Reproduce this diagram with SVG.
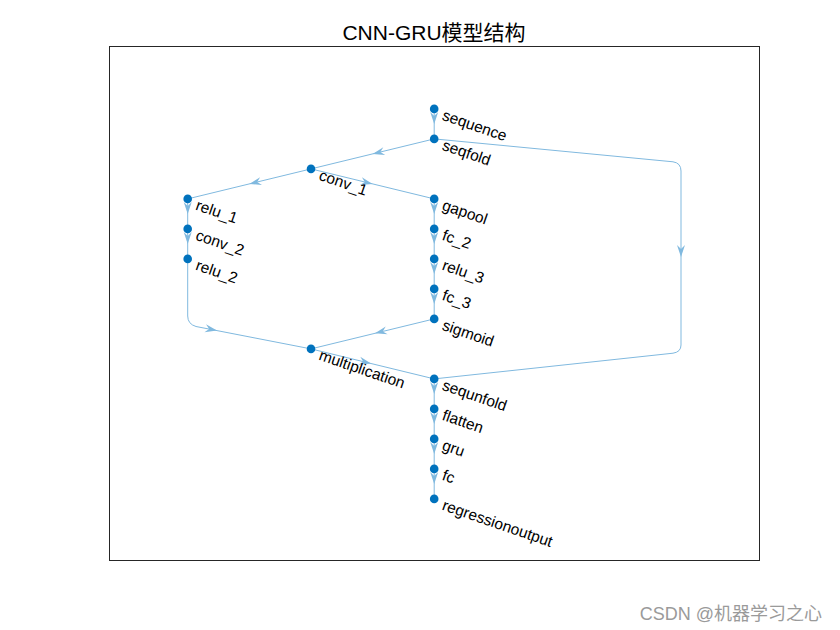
<svg xmlns="http://www.w3.org/2000/svg" xmlns:xlink="http://www.w3.org/1999/xlink" width="840" height="630" viewBox="0 0 840 630">
<style>
.edge{fill:none;stroke:#80B9DF;stroke-width:1}
.ah{fill:#80B9DF;stroke:none}
.node circle{fill:#0072BD}
.node text{font-family:"Liberation Sans",Arial,sans-serif;font-size:15.5px;fill:#000}
.title{font-family:"Liberation Sans","Noto Sans CJK SC",sans-serif;font-size:21px;fill:#000}
.wm{font-family:"Liberation Sans","Noto Sans CJK SC",sans-serif;font-size:18px;fill:#9a9a9a}
</style>
<defs>
<path id="ah" d="M0,0 L-12,-4 L-8,0 L-12,4 Z"/>
</defs>
<rect x="0" y="0" width="840" height="630" fill="#fff"/>
<rect x="109.5" y="46.5" width="650" height="514" fill="#fff" stroke="#262626" stroke-width="1"/>
<text class="title" x="434" y="40" text-anchor="middle">CNN-GRU模型结构</text>

<g id="connectors">
<line class="edge" x1="434.2" y1="108.9" x2="434.2" y2="138.9"/>
<line class="edge" x1="434.2" y1="138.9" x2="311" y2="168.9"/>
<line class="edge" x1="311" y1="168.9" x2="187.7" y2="198.9"/>
<line class="edge" x1="311" y1="168.9" x2="434.2" y2="198.9"/>
<line class="edge" x1="187.7" y1="198.9" x2="187.7" y2="258.9"/>
<line class="edge" x1="434.2" y1="198.9" x2="434.2" y2="318.9"/>
<path class="edge" d="M187.7,258.9 L187.7,316 Q187.7,324 196,326.5 L311,348.9"/>
<line class="edge" x1="434.2" y1="318.9" x2="311" y2="348.9"/>
<line class="edge" x1="311" y1="348.9" x2="434.2" y2="378.9"/>
<path class="edge" d="M434.2,138.9 L673,161.8 Q681,163 681,171 L681,345 Q681,352 673,353.2 L434.2,378.9"/>
<line class="edge" x1="434.2" y1="378.9" x2="434.2" y2="498.9"/>

<use xlink:href="#ah" href="#ah" class="ah" transform="translate(434.2,123.9) rotate(90)"/>
<use xlink:href="#ah" href="#ah" class="ah" transform="translate(372.6,153.9) rotate(166.3)"/>
<use xlink:href="#ah" href="#ah" class="ah" transform="translate(249.4,183.9) rotate(166.3)"/>
<use xlink:href="#ah" href="#ah" class="ah" transform="translate(372.6,183.9) rotate(13.7)"/>
<use xlink:href="#ah" href="#ah" class="ah" transform="translate(187.7,213.9) rotate(90)"/>
<use xlink:href="#ah" href="#ah" class="ah" transform="translate(187.7,243.9) rotate(90)"/>
<use xlink:href="#ah" href="#ah" class="ah" transform="translate(434.2,213.9) rotate(90)"/>
<use xlink:href="#ah" href="#ah" class="ah" transform="translate(434.2,243.9) rotate(90)"/>
<use xlink:href="#ah" href="#ah" class="ah" transform="translate(434.2,273.9) rotate(90)"/>
<use xlink:href="#ah" href="#ah" class="ah" transform="translate(434.2,303.9) rotate(90)"/>
<use xlink:href="#ah" href="#ah" class="ah" transform="translate(217,330.6) rotate(11.1)"/>
<use xlink:href="#ah" href="#ah" class="ah" transform="translate(375,333.3) rotate(166.3)"/>
<use xlink:href="#ah" href="#ah" class="ah" transform="translate(371,363.6) rotate(13.7)"/>
<use xlink:href="#ah" href="#ah" class="ah" transform="translate(681,257) rotate(90)"/>
<use xlink:href="#ah" href="#ah" class="ah" transform="translate(434.2,393.9) rotate(90)"/>
<use xlink:href="#ah" href="#ah" class="ah" transform="translate(434.2,423.9) rotate(90)"/>
<use xlink:href="#ah" href="#ah" class="ah" transform="translate(434.2,453.9) rotate(90)"/>
<use xlink:href="#ah" href="#ah" class="ah" transform="translate(434.2,483.9) rotate(90)"/>
</g>

<g id="node-sequence" class="node"><circle cx="434.2" cy="108.9" r="4.3"/><text x="441.2" y="119.5" transform="rotate(19 441.2 119.5)">sequence</text></g>
<g id="node-seqfold" class="node"><circle cx="434.2" cy="138.9" r="4.3"/><text x="441.2" y="149.5" transform="rotate(19 441.2 149.5)">seqfold</text></g>
<g id="node-conv_1" class="node"><circle cx="311" cy="168.9" r="4.3"/><text x="318" y="179.5" transform="rotate(19 318 179.5)">conv_1</text></g>
<g id="node-relu_1" class="node"><circle cx="187.7" cy="198.9" r="4.3"/><text x="194.7" y="209.5" transform="rotate(19 194.7 209.5)">relu_1</text></g>
<g id="node-conv_2" class="node"><circle cx="187.7" cy="228.9" r="4.3"/><text x="194.7" y="239.5" transform="rotate(19 194.7 239.5)">conv_2</text></g>
<g id="node-relu_2" class="node"><circle cx="187.7" cy="258.9" r="4.3"/><text x="194.7" y="269.5" transform="rotate(19 194.7 269.5)">relu_2</text></g>
<g id="node-gapool" class="node"><circle cx="434.2" cy="198.9" r="4.3"/><text x="441.2" y="209.5" transform="rotate(19 441.2 209.5)">gapool</text></g>
<g id="node-fc_2" class="node"><circle cx="434.2" cy="228.9" r="4.3"/><text x="441.2" y="239.5" transform="rotate(19 441.2 239.5)">fc_2</text></g>
<g id="node-relu_3" class="node"><circle cx="434.2" cy="258.9" r="4.3"/><text x="441.2" y="269.5" transform="rotate(19 441.2 269.5)">relu_3</text></g>
<g id="node-fc_3" class="node"><circle cx="434.2" cy="288.9" r="4.3"/><text x="441.2" y="299.5" transform="rotate(19 441.2 299.5)">fc_3</text></g>
<g id="node-sigmoid" class="node"><circle cx="434.2" cy="318.9" r="4.3"/><text x="441.2" y="329.5" transform="rotate(19 441.2 329.5)">sigmoid</text></g>
<g id="node-multiplication" class="node"><circle cx="311" cy="348.9" r="4.3"/><text x="318" y="359.5" transform="rotate(19 318 359.5)">multiplication</text></g>
<g id="node-sequnfold" class="node"><circle cx="434.2" cy="378.9" r="4.3"/><text x="441.2" y="389.5" transform="rotate(19 441.2 389.5)">sequnfold</text></g>
<g id="node-flatten" class="node"><circle cx="434.2" cy="408.9" r="4.3"/><text x="441.2" y="419.5" transform="rotate(19 441.2 419.5)">flatten</text></g>
<g id="node-gru" class="node"><circle cx="434.2" cy="438.9" r="4.3"/><text x="441.2" y="449.5" transform="rotate(19 441.2 449.5)">gru</text></g>
<g id="node-fc" class="node"><circle cx="434.2" cy="468.9" r="4.3"/><text x="441.2" y="479.5" transform="rotate(19 441.2 479.5)">fc</text></g>
<g id="node-regressionoutput" class="node"><circle cx="434.2" cy="498.9" r="4.3"/><text x="441.2" y="509.5" transform="rotate(19 441.2 509.5)">regressionoutput</text></g>

<text class="wm" x="822" y="620" text-anchor="end">CSDN @机器学习之心</text>
</svg>
